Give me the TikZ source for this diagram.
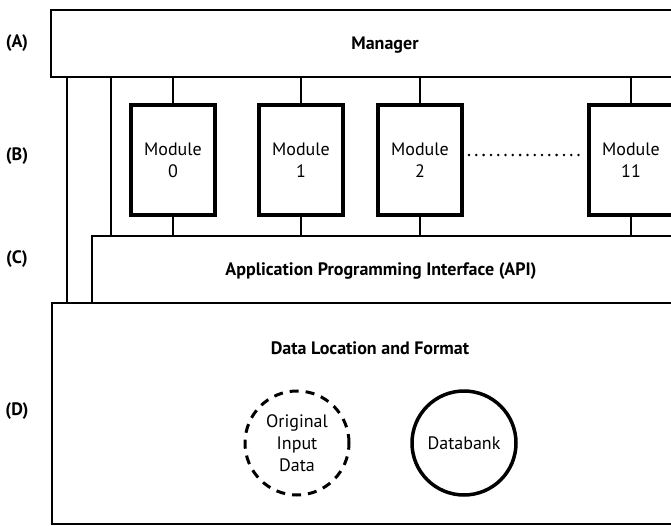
\documentclass[tikz,border=0pt]{standalone}
\usepackage{fontspec}
\setmainfont{PT Sans}
\usetikzlibrary{positioning}

\begin{document}
\begin{tikzpicture}[x=1pt,y=-1pt,
  every node/.style={font=\fontsize{18}{22}\selectfont},
  layer/.style={draw,line width=2pt,inner sep=0pt,outer sep=0pt,anchor=north west},
  module/.style={draw,line width=4pt,inner sep=0pt,outer sep=0pt,minimum width=84pt,minimum height=110pt,align=center},
  tag/.style={font=\fontsize{18}{22}\selectfont\bfseries},
  link/.style={line width=1.1pt},
  dotrow/.style={line width=2.8pt,line cap=round,dash pattern=on 0pt off 7.3pt},
  store/.style={draw,circle,minimum size=104pt,inner sep=0pt,align=center}]
\useasboundingbox (0,0) rectangle (671,526);
\clip (0,0) rectangle (671,526);
\node[layer,minimum width=700pt,minimum height=67pt] (mgr) at (51,10) {};
\node[layer,minimum width=620pt,minimum height=67pt] (api) at (92,236) {};
\node[layer,minimum width=660pt,minimum height=221pt] (data) at (52,303) {};
\node[tag] (mgrtext) at (385,45) {Manager};
\node[tag] (apitext) at (381,271) {Application Programming Interface (API)};
\node[tag] (datatext) at (370,348) {Data Location and Format};
\node[tag] (labA) at (17,43) {(A)};
\node[tag] (labB) at (17,156) {(B)};
\node[tag] (labC) at (17,259) {(C)};
\node[tag] (labD) at (17,411) {(D)};
\node[module] (mod0) at (173,160) {Module\\ 0};
\node[module] (mod1) at (301,160) {Module\\ 1};
\node[module] (mod2) at (420,160) {Module\\ 2};
\node[module] (mod11) at (631,160) {Module\\ 11};
\node[store,dashed,line width=3pt,dash pattern=on 9pt off 7pt] (orig) at (297,443) {Original\\ Input\\ Data};
\node[store,line width=3.5pt] (bank) at (464,443) {Databank};

\foreach \m in {mod0,mod1,mod2,mod11} {\draw[link] (\m.north) -- (\m.north |- mgr.south); \draw[link] (\m.south) -- (\m.south |- api.north);}
\draw[link] ([xshift=16pt]mgr.south west) -- ([xshift=16pt]mgr.south west |- data.north); \draw[link] ([xshift=60pt]mgr.south west) -- ([xshift=60pt]mgr.south west |- api.north);
\draw[dotrow] ([xshift=7pt,yshift=5pt]mod2.east) -- ([xshift=-9pt,yshift=5pt]mod11.west);
\end{tikzpicture}
\end{document}
